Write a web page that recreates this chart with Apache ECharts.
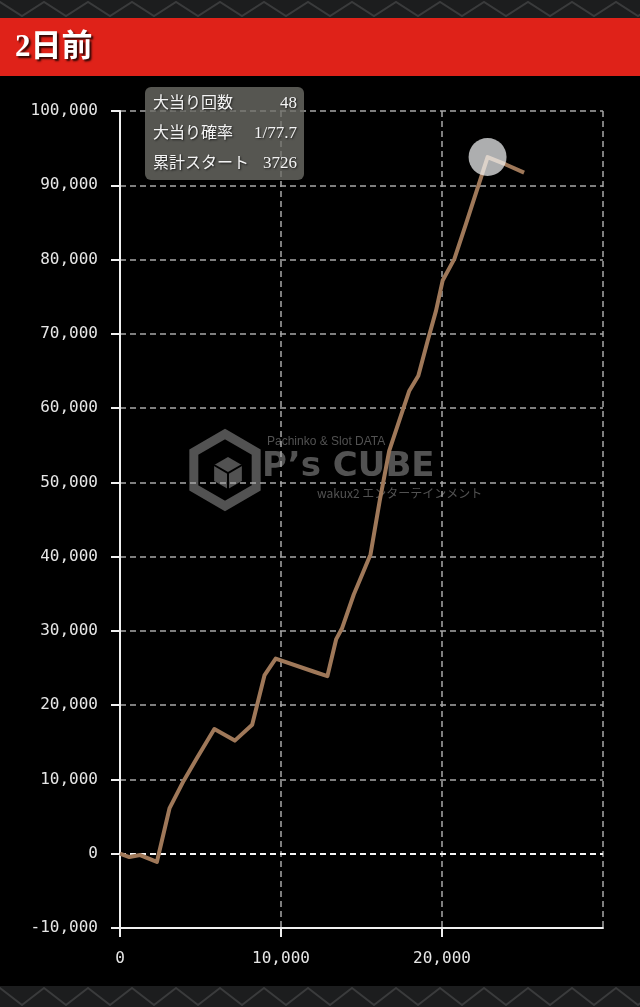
<!DOCTYPE html>
<html>
<head>
<meta charset="utf-8">
<script src="https://cdn.jsdelivr.net/npm/echarts@6/dist/echarts.min.js"></script>
<style>
html,body{margin:0;padding:0;background:#000;}
#c{width:640px;height:1007px;}
</style>
</head>
<body>
<div id="c"></div>
<script>
// ---- data ----
const titleText = '2日前';
const startsX = [0, 580, 1250, 2290, 3080, 3950, 4780, 5860, 7130, 8210, 8980, 9670, 12060, 12880, 13430, 13800, 14520, 15140, 15560, 16130, 16720, 17340, 17970, 18530, 19110, 19630, 20040, 20770, 21490, 22430, 22830, 23960, 25100];
const balanceY = [0, -450, -180, -1110, 6150, 9800, 12900, 16790, 15230, 17370, 24050, 26280, 24500, 23900, 28900, 30400, 34900, 38100, 40300, 47500, 54250, 58290, 62340, 64360, 69080, 73120, 77170, 80090, 84810, 91100, 93800, 92800, 91700];
const highlightPoint = [22830, 93800];
const statLabels = ['大当り回数', '大当り確率', '累計スタート'];
const statValues = ['48', '1/77.7', '3726'];
const yTickMin = -10000, yTickMax = 100000, yTickStep = 10000;
const xTickMin = 0, xTickMax = 30000, xTickStep = 10000;

function fmt(v){ return String(v).replace(/\B(?=(\d{3})+(?!\d))/g, ','); }

const chart = echarts.init(document.getElementById('c'), null, {renderer:'canvas'});

// decorative pattern bands
function zigzag(y0, y1, period){
  const pts = [];
  for (let x = -period; x <= 640 + period; x += period/2){
    const up = Math.round(x/(period/2)) % 2 === 0;
    pts.push([x, up ? y0 : y1]);
  }
  return pts;
}
function hexPts(cx, cy, r){
  const p = [];
  for (let i = 0; i < 6; i++){ const a = (-90 + 60*i)*Math.PI/180; p.push([cx + r*Math.cos(a), cy + r*Math.sin(a)]); }
  return p;
}

const serifFont = '"Liberation Serif","DejaVu Serif","Noto Sans CJK JP"';
const wm = '#525252';
const graphics = [
  {type:'rect', z:-10, shape:{x:0,y:0,width:640,height:18}, style:{fill:'#1c1d1e'}},
  {type:'polyline', z:-9, shape:{points:zigzag(2,16,44)}, style:{stroke:'#3a3b3c', lineWidth:2, fill:null}},
  {type:'rect', z:-10, shape:{x:0,y:986,width:640,height:21}, style:{fill:'#1c1d1e'}},
  {type:'polyline', z:-9, shape:{points:zigzag(988,1005,44)}, style:{stroke:'#3a3b3c', lineWidth:2, fill:null}},
  {type:'rect', z:-8, shape:{x:0,y:18,width:640,height:58}, style:{fill:'#df2219'}},
  {type:'text', z:-7, x:15, y:48, style:{text:titleText, fill:'#ffffff', font:'bold 31px ' + serifFont, align:'left', verticalAlign:'middle', textShadowColor:'rgba(0,0,0,0.8)', textShadowBlur:2, textShadowOffsetX:2, textShadowOffsetY:2}},
  // watermark
  {type:'polygon', z:-5, shape:{points:hexPts(225,470,36)}, style:{stroke:wm, lineWidth:9, fill:null}},
  {type:'polygon', z:-5, shape:{points:hexPts(228,473,16)}, style:{fill:wm}},
  {type:'polyline', z:-4, shape:{points:[[214,465],[228,473],[242,465]]}, style:{stroke:'#000', lineWidth:2, fill:null}},
  {type:'line', z:-4, shape:{x1:228,y1:473,x2:228,y2:489}, style:{stroke:'#000', lineWidth:2}},
  {type:'text', z:-5, x:267, y:442, style:{text:'Pachinko & Slot DATA', fill:wm, font:'12px "Liberation Sans Narrow","Liberation Sans",sans-serif', verticalAlign:'middle'}},
  {type:'text', z:-5, x:262, y:467, style:{text:'P’s CUBE', fill:wm, font:'bold 34px "DejaVu Sans",sans-serif', verticalAlign:'middle'}},
  {type:'text', z:-5, x:317, y:493, style:{text:'wakux2 エンターテインメント', fill:wm, font:'12px "Noto Sans CJK JP",sans-serif', verticalAlign:'middle'}},
  // stats box
  {type:'rect', z:100, shape:{x:145,y:87,width:159,height:93,r:6}, style:{fill:'rgba(110,110,104,0.78)'}}
];
statLabels.forEach(function(lbl, i){
  const y = 104 + 30*i;
  graphics.push({type:'text', z:101, x:153, y:y, style:{text:lbl, fill:'#f4f4f4', font:'16px ' + serifFont, align:'left', verticalAlign:'middle', textShadowColor:'rgba(0,0,0,0.7)', textShadowBlur:2, textShadowOffsetX:1, textShadowOffsetY:1}});
  graphics.push({type:'text', z:101, x:297, y:y, style:{text:statValues[i], fill:'#f4f4f4', font:'17px ' + serifFont, align:'right', verticalAlign:'middle', textShadowColor:'rgba(0,0,0,0.7)', textShadowBlur:2, textShadowOffsetX:1, textShadowOffsetY:1}});
});

const axisFont = '"DejaVu Sans Mono", monospace';
const option = {
  backgroundColor: '#000',
  animation: false,
  graphic: graphics,
  grid: {left:120, right:37, top:111, bottom:79, containLabel:false},
  xAxis: {
    type:'value', min:xTickMin, max:xTickMax, interval:xTickStep,
    axisLine:{show:true, onZero:false, lineStyle:{color:'#f0f0f0', width:2}},
    axisTick:{show:true, length:9, lineStyle:{color:'#f0f0f0', width:2}},
    axisLabel:{color:'#e6e6e6', fontFamily:axisFont, fontSize:16, margin:23, showMaxLabel:false, formatter:fmt},
    splitLine:{show:true, lineStyle:{color:'#a8a8a8', type:[6,4], width:1.5}}
  },
  yAxis: {
    type:'value', min:yTickMin, max:yTickMax, interval:yTickStep,
    axisLine:{show:true, onZero:false, lineStyle:{color:'#f0f0f0', width:2}},
    axisTick:{show:true, length:9, lineStyle:{color:'#f0f0f0', width:2}},
    axisLabel:{color:'#e6e6e6', fontFamily:axisFont, fontSize:16, margin:22, formatter:fmt},
    splitLine:{show:true, lineStyle:{color:'#a8a8a8', type:[6,4], width:1.5}}
  },
  series: [
    {
      type:'line', data: startsX.map(function(x,i){return [x, balanceY[i]];}),
      showSymbol:false, symbol:'none', z:2,
      lineStyle:{color:'#9f7859', width:4, join:'round'},
      markLine:{silent:true, symbol:'none', label:{show:false}, z:1,
        lineStyle:{color:'#f4f4f4', type:[6,4], width:2}, data:[{yAxis:0}]}
    },
    {
      type:'scatter', data:[highlightPoint], symbolSize:38, z:5,
      itemStyle:{color:'rgba(246,248,250,0.88)'}
    }
  ]
};
chart.setOption(option);
</script>
</body>
</html>
